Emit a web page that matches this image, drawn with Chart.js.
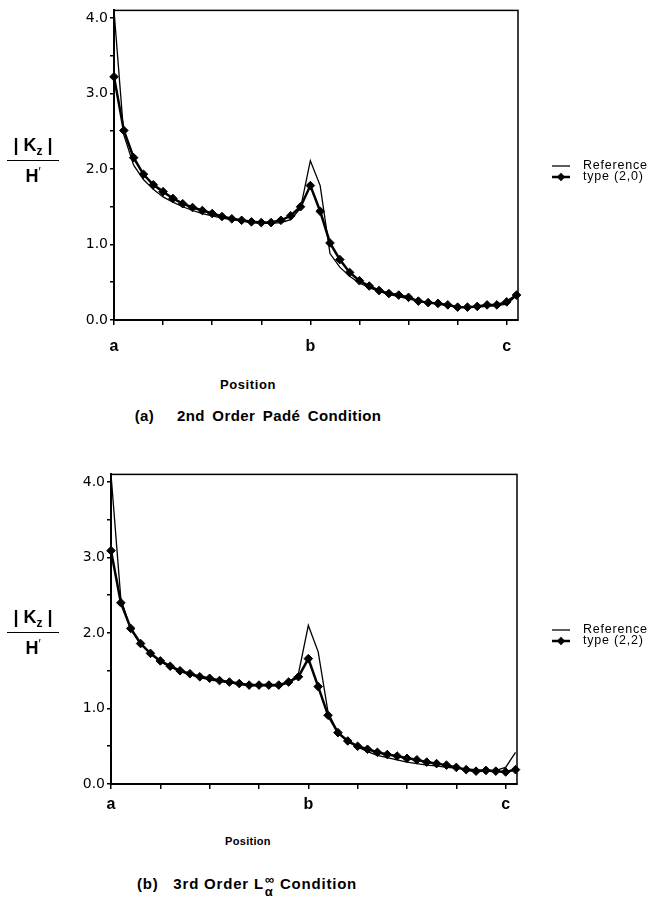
<!DOCTYPE html>
<html>
<head>
<meta charset="utf-8">
<script src="https://cdn.jsdelivr.net/npm/chart.js@4.4.1/dist/chart.umd.min.js"></script>
<style>
  html, body { margin: 0; padding: 0; background: #fff; }
  body { width: 651px; height: 902px; position: relative; overflow: hidden;
         font-family: 'Liberation Sans', Arial, sans-serif; color: #000; }
  canvas.plot { position: absolute; left: 0; }
  .frac { position: absolute; left: 7px; width: 52px; text-align: center; font-weight: bold; font-size: 18px; }
  .frac .num { line-height: 18px; padding-bottom: 6px; border-bottom: 1.5px solid #000; white-space: nowrap; }
  .frac .num sub { font-size: 12px; vertical-align: -4px; line-height: 0; }
  .frac .den { line-height: 18px; padding-top: 6px; }
  .frac .den sup { font-size: 12px; font-weight: normal; vertical-align: 6px; line-height: 0; }
  .txt { position: absolute; left: 0; text-align: center; font-weight: bold; white-space: nowrap; }
  .supsub { display: inline-block; vertical-align: -7px; font-size: 13px; line-height: 12px; text-align: left; margin-left: 1px; }
  .supsub span { display: block; }
</style>
</head>
<body>

<canvas id="chartA" class="plot" width="651" height="360" style="top:0px"></canvas>
<canvas id="chartB" class="plot" width="651" height="360" style="top:464px"></canvas>

<div class="frac" style="top:136px">
  <div class="num">|&nbsp;K<sub>z</sub>&nbsp;|</div>
  <div class="den">H<sup>′</sup></div>
</div>
<div class="frac" style="top:608px">
  <div class="num">|&nbsp;K<sub>z</sub>&nbsp;|</div>
  <div class="den">H<sup>′</sup></div>
</div>

<div class="txt" style="top:377px; width:496px; font-size:13px; letter-spacing:0.6px">Position</div>
<div class="txt" style="top:407px; width:516px; font-size:15px; letter-spacing:0.4px; word-spacing:3px">(a)&nbsp;&nbsp; 2nd Order Padé Condition</div>

<div class="txt" style="top:835px; width:496px; font-size:11px; letter-spacing:0.3px">Position</div>
<div class="txt" style="top:874px; width:494px; font-size:15px; letter-spacing:0.8px">(b)&nbsp;&nbsp; 3rd Order L<span class="supsub"><span>∞</span><span>α</span></span> Condition</div>

<script>
// positions along the conductor, a = 0, b = 4, c = 8
const positions = [0, 0.2, 0.4, 0.6, 0.8, 1.0, 1.2, 1.4, 1.6, 1.8,
                   2.0, 2.2, 2.4, 2.6, 2.8, 3.0, 3.2, 3.4, 3.6, 3.8,
                   4.0, 4.2, 4.4, 4.6, 4.8, 5.0, 5.2, 5.4, 5.6, 5.8,
                   6.0, 6.2, 6.4, 6.6, 6.8, 7.0, 7.2, 7.4, 7.6, 7.8,
                   8.0, 8.2];

// (a) 2nd order Pade condition
const referenceA = [4.10, 2.45, 2.05, 1.86, 1.73, 1.63, 1.56, 1.50, 1.45, 1.41,
                    1.38, 1.35, 1.33, 1.31, 1.29, 1.28, 1.28, 1.29, 1.33, 1.48,
                    2.11, 1.78, 0.88, 0.70, 0.58, 0.49, 0.43, 0.38, 0.34, 0.31,
                    0.28, 0.25, 0.23, 0.21, 0.19, 0.17, 0.17, 0.17, 0.18, 0.19,
                    0.21, 0.32];
const type20 = [3.22, 2.51, 2.15, 1.93, 1.79, 1.70, 1.61, 1.54, 1.49, 1.45,
                1.41, 1.37, 1.34, 1.32, 1.30, 1.29, 1.29, 1.32, 1.38, 1.50,
                1.78, 1.44, 1.02, 0.80, 0.63, 0.52, 0.45, 0.39, 0.35, 0.33,
                0.30, 0.25, 0.23, 0.22, 0.20, 0.17, 0.17, 0.18, 0.20, 0.20,
                0.24, 0.33];

// (b) 3rd order L-infinity condition
const referenceB = [4.10, 2.45, 2.05, 1.85, 1.72, 1.62, 1.55, 1.49, 1.45, 1.41,
                    1.38, 1.36, 1.34, 1.32, 1.30, 1.30, 1.30, 1.30, 1.34, 1.46,
                    2.10, 1.75, 0.95, 0.68, 0.56, 0.49, 0.43, 0.38, 0.35, 0.32,
                    0.29, 0.27, 0.25, 0.24, 0.22, 0.21, 0.20, 0.19, 0.18, 0.18,
                    0.22, 0.42];
const type22 = [3.09, 2.40, 2.06, 1.86, 1.73, 1.63, 1.56, 1.50, 1.46, 1.42,
                1.40, 1.37, 1.35, 1.33, 1.31, 1.31, 1.31, 1.31, 1.35, 1.42,
                1.66, 1.29, 0.91, 0.68, 0.57, 0.50, 0.46, 0.42, 0.39, 0.37,
                0.34, 0.32, 0.29, 0.27, 0.25, 0.22, 0.19, 0.17, 0.18, 0.17,
                0.16, 0.19];

const xTickValues = [0, 1, 2, 3, 4, 5, 6, 7, 8];
const xTickLabels = ['a', '', '', '', 'b', '', '', '', 'c'];
const yTickValues = [0, 0.5, 1, 1.5, 2, 2.5, 3, 3.5, 4];
const yTickLabels = ['0.0', '', '1.0', '', '2.0', '', '3.0', '', '4.0'];

const X_MAX = 8.23;
const Y_MAX = 4.1;

// box around the plotting area
const framePlugin = {
    id: 'frame',
    beforeDatasetsDraw(chart) {
        const {ctx, chartArea} = chart;
        ctx.save();
        ctx.strokeStyle = '#000';
        ctx.lineWidth = 1.5;
        ctx.strokeRect(chartArea.left, chartArea.top, chartArea.right - chartArea.left, chartArea.bottom - chartArea.top);
        ctx.restore();
    }
};

// legend off to the right of the frame, built from the datasets
const sideLegendPlugin = {
    id: 'sideLegend',
    afterDraw(chart, args, opts) {
        const ctx = chart.ctx;
        ctx.save();
        ctx.font = opts.font;
        ctx.fillStyle = '#000';
        ctx.textBaseline = 'middle';
        if ('letterSpacing' in ctx) {
            ctx.letterSpacing = opts.letterSpacing;
        }
        chart.data.datasets.forEach((ds, i) => {
            const y = opts.y + i * opts.rowGap;
            ctx.strokeStyle = ds.borderColor;
            ctx.lineWidth = ds.borderWidth;
            ctx.beginPath();
            ctx.moveTo(opts.x, y);
            ctx.lineTo(opts.x + opts.lineLen, y);
            ctx.stroke();
            if (ds.pointRadius > 0) {
                const cx = opts.x + opts.lineLen / 2,
                    r = ds.pointRadius;
                ctx.beginPath();
                ctx.moveTo(cx, y - r);
                ctx.lineTo(cx + r, y);
                ctx.lineTo(cx, y + r);
                ctx.lineTo(cx - r, y);
                ctx.closePath();
                ctx.fill();
            }
            ctx.fillText(ds.label, opts.x + opts.textOffset, y);
        });
        ctx.restore();
    }
};

function toPoints(values) {
    return positions.map((x, i) => ({x, y: values[i]}));
}

function buildChart(canvasId, refValues, typeValues, typeName, geo) {
    return new Chart(document.getElementById(canvasId), {
        type: 'line',
        data: {
            datasets: [{
                label: 'Reference',
                data: toPoints(refValues),
                borderColor: '#000',
                borderWidth: 1.3,
                pointRadius: 0,
                tension: 0,
                clip: false
            }, {
                label: typeName,
                data: toPoints(typeValues),
                borderColor: '#000',
                backgroundColor: '#000',
                borderWidth: 2.5,
                pointStyle: 'rectRot',
                pointRadius: 4.3,
                pointBorderWidth: 1,
                tension: 0,
                clip: false
            }]
        },
        options: {
            responsive: false,
            animation: false,
            events: [],
            layout: {
                padding: {left: 0, top: geo.top, right: geo.right, bottom: 0}
            },
            plugins: {
                legend: {display: false},
                tooltip: {enabled: false},
                sideLegend: {
                    x: 552, y: 166, rowGap: 11, lineLen: 18, textOffset: 31,
                    font: '12.5px "Liberation Sans", Arial, sans-serif',
                    letterSpacing: '0.8px'
                }
            },
            scales: {
                x: {
                    type: 'linear',
                    min: 0,
                    max: X_MAX,
                    afterBuildTicks: scale => {
                        scale.ticks = xTickValues.map(v => ({value: v}));
                    },
                    afterFit: scale => {
                        scale.height = 40;
                    },
                    ticks: {
                        autoSkip: false,
                        maxRotation: 0,
                        padding: geo.xLabelPad,
                        color: '#000',
                        font: {family: '"Liberation Sans", Arial, sans-serif', size: 16, weight: 'bold'},
                        callback: value => xTickLabels[xTickValues.indexOf(value)] || ''
                    },
                    grid: {
                        drawOnChartArea: false,
                        drawTicks: true,
                        tickLength: 5,
                        color: '#000',
                        lineWidth: 1.5
                    },
                    border: {display: true, color: '#000', width: 2}
                },
                y: {
                    type: 'linear',
                    min: 0,
                    max: Y_MAX,
                    afterBuildTicks: scale => {
                        scale.ticks = yTickValues.map(v => ({value: v}));
                    },
                    afterFit: scale => {
                        scale.width = geo.left;
                    },
                    ticks: {
                        autoSkip: false,
                        padding: 2,
                        color: '#000',
                        font: {family: '"DejaVu Sans", sans-serif', size: 14},
                        callback: value => yTickLabels[yTickValues.indexOf(value)] || ''
                    },
                    grid: {
                        drawOnChartArea: false,
                        drawTicks: true,
                        tickLength: 4,
                        color: '#000',
                        lineWidth: 1.5
                    },
                    border: {display: true, color: '#000', width: 2}
                }
            }
        },
        plugins: [framePlugin, sideLegendPlugin]
    });
}

buildChart('chartA', referenceA, type20, 'type (2,0)', {left: 114, right: 133, top: 6, xLabelPad: 12});
buildChart('chartB', referenceB, type22, 'type (2,2)', {left: 111, right: 134, top: 6, xLabelPad: 6});
</script>
</body>
</html>
